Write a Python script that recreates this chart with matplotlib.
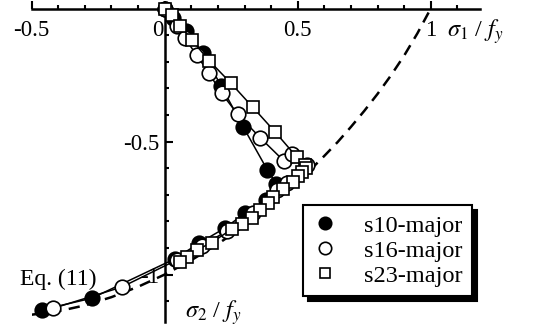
import matplotlib
matplotlib.use("Agg")
import matplotlib.pyplot as plt
import matplotlib.transforms as mtransforms
from matplotlib.ticker import MultipleLocator

plt.rcParams['font.family'] = ['Liberation Serif', 'DejaVu Serif']
plt.rcParams['mathtext.fontset'] = 'stix'

# Eq. (11) curve
eq_s1 = [-0.5, -0.4, -0.3, -0.2, -0.1, 0.0, 0.1, 0.2, 0.3, 0.4, 0.5, 0.55, 0.6, 0.65, 0.7, 0.75, 0.8, 0.85, 0.9, 0.95, 1.0]
eq_s2 = [-1.151, -1.138, -1.116, -1.085, -1.046, -1.0, -0.946, -0.885, -0.816, -0.738, -0.651, -0.604, -0.554, -0.502, -0.445, -0.385, -0.321, -0.252, -0.177, -0.093, 0.0]

# s10-major
s10_s1 = [0.0, 0.030, 0.080, 0.144, 0.212, 0.295, 0.386, 0.420, 0.381, 0.302, 0.227, 0.129, 0.040, -0.274, -0.462]
s10_s2 = [0.0, -0.035, -0.085, -0.167, -0.291, -0.445, -0.607, -0.660, -0.720, -0.769, -0.825, -0.882, -0.940, -1.089, -1.133]

# s16-major
s16_s1 = [0.0, 0.045, 0.076, 0.120, 0.167, 0.214, 0.274, 0.358, 0.448, 0.479, 0.534, 0.459, 0.421, 0.330, 0.234, 0.140, 0.046, -0.161, -0.419]
s16_s2 = [0.0, -0.066, -0.112, -0.175, -0.244, -0.319, -0.397, -0.485, -0.573, -0.547, -0.588, -0.657, -0.682, -0.770, -0.836, -0.892, -0.945, -1.047, -1.127]

# s23-major
s23_s1 = [0.0, 0.026, 0.058, 0.103, 0.168, 0.249, 0.331, 0.415, 0.496, 0.527, 0.531, 0.516, 0.501, 0.482, 0.445, 0.408, 0.388, 0.358, 0.327, 0.289, 0.253, 0.176, 0.120, 0.083, 0.058]
s23_s2 = [0.0, -0.024, -0.064, -0.120, -0.197, -0.281, -0.371, -0.464, -0.558, -0.588, -0.600, -0.615, -0.630, -0.651, -0.680, -0.708, -0.732, -0.759, -0.786, -0.810, -0.829, -0.880, -0.908, -0.933, -0.952]

fig = plt.figure(figsize=(5.36, 3.35), dpi=100)
ax = fig.add_axes([0.0591, 0.0376, 0.8364, 0.937])

ax.plot(eq_s1, eq_s2, color='k', lw=1.8, dashes=(4.5, 3), zorder=1)

ax.plot(s10_s1, s10_s2, color='k', lw=1.1, marker='o', ms=10.5, mfc='k', mec='k',
        mew=1.2, label='s10-major', clip_on=False, zorder=2)
ax.plot(s16_s1, s16_s2, color='k', lw=1.1, marker='o', ms=10.5, mfc='white', mec='k',
        mew=1.2, label='s16-major', clip_on=False, zorder=3)
ax.plot(s23_s1, s23_s2, color='k', lw=1.1, marker='s', ms=9, mfc='white', mec='k',
        mew=1.2, label='s23-major', clip_on=False, zorder=4)

ax.set_xlim(-0.5, 1.185)
ax.set_ylim(-1.18, 0)

ax.spines['left'].set_position(('data', 0))
ax.spines['bottom'].set_position(('data', 0))
ax.spines['top'].set_visible(False)
ax.spines['right'].set_visible(False)
for sp in ('left', 'bottom'):
    ax.spines[sp].set_linewidth(1.8)

ax.set_xticks([-0.5, 0, 0.5, 1])
ax.set_xticklabels(['-0.5', '0', '0.5', '1'])
ax.set_yticks([-1, -0.5])
ax.set_yticklabels(['-1', '-0.5'])
ax.xaxis.set_minor_locator(MultipleLocator(0.1))
ax.yaxis.set_minor_locator(MultipleLocator(0.1))
ax.tick_params(which='major', direction='in', length=6, width=1.5, labelsize=16.5)
ax.tick_params(which='minor', direction='in', length=3, width=1.5)
ax.tick_params(axis='x', which='major', pad=8)
ax.tick_params(axis='y', which='major', pad=4)

# the origin label sits left of the vertical axis
zero_lab = ax.get_xticklabels()[1]
zero_lab.set_transform(zero_lab.get_transform() +
                       mtransforms.ScaledTranslation(-5 / 72, 0, fig.dpi_scale_trans))

ax.text(1.061, -0.085, r'$\sigma_1$ / $f_y$', fontsize=17.5, ha='left', va='center')
ax.text(0.076, -1.143, r'$\sigma_2$ / $f_y$', fontsize=17.5, ha='left', va='center')
ax.text(-0.40, -1.02, 'Eq. (11)', fontsize=17, ha='center', va='center')

leg = ax.legend(loc='upper left', bbox_to_anchor=(0.605, 0.374), borderaxespad=0,
                fontsize=17.5, frameon=True, fancybox=False,
                shadow={'ox': 3.5, 'oy': -3.5, 'color': 'k', 'alpha': 1},
                handlelength=1.0, handletextpad=1.1, labelspacing=0.12,
                borderpad=0.4, markerscale=0.85)
leg.get_frame().set_edgecolor('k')
leg.get_frame().set_linewidth(1.5)
for h in leg.legend_handles:
    h.set_linestyle('None')

fig.savefig('out.png', dpi=100)
